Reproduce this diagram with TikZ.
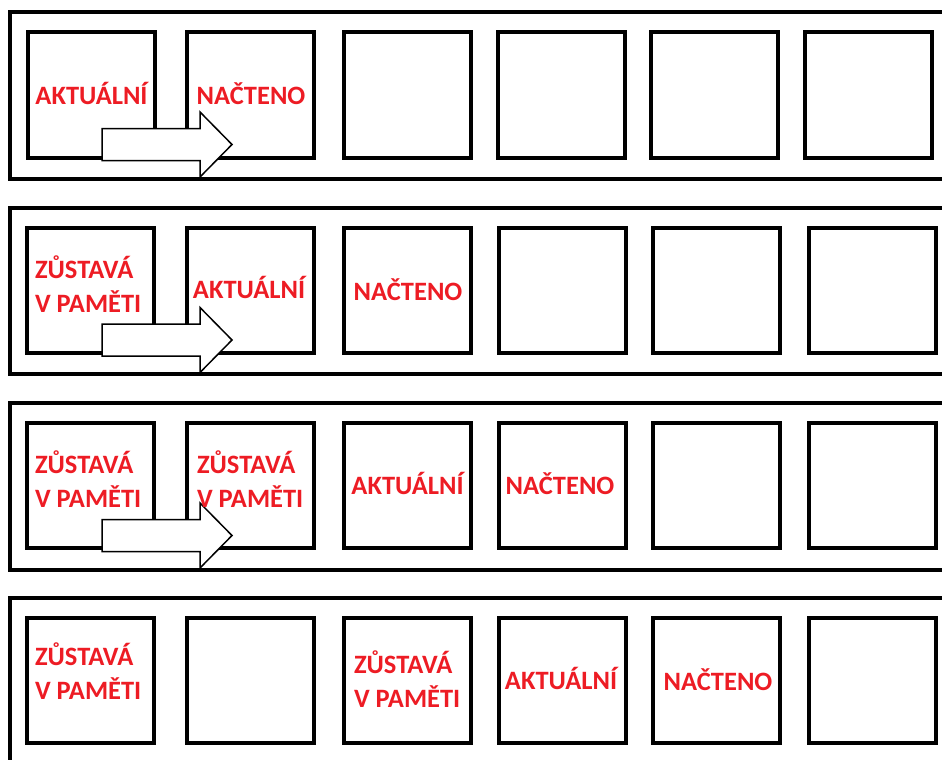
\documentclass[tikz,border=0pt]{standalone}
\usepackage{fontspec}
\setmainfont{Carlito}
\definecolor{lbl}{RGB}{237,28,36}
\begin{document}
\begin{tikzpicture}[x=1pt,y=-1pt,
  frame/.style={draw=black, line width=4pt},
  cell/.style={draw=black, line width=4pt, minimum width=127pt, minimum height=125pt, inner sep=0pt, outer sep=0pt},
  lab/.style={text=lbl, font=\bfseries\fontsize{26.5}{33.5}\selectfont, inner sep=0pt, outer sep=0pt},
  blockarrow/.style={draw=black, fill=white, line width=1.5pt, line join=miter}]
\useasboundingbox (0,0) rectangle (942,760);
\begin{scope}
\clip (0,0) rectangle (942,760);
% row frames
\draw[frame] (10,12.5) rectangle (980,178.5);
\draw[frame] (9.5,207.5) rectangle (980,373.5);
\draw[frame] (10,402.5) rectangle (980,569.5);
\draw[frame] (10,598) rectangle (980,790);
% cells
\foreach \c/\x in {1/91.5,2/250.5,3/407,4/561,5/714.5,6/868.5}
  \node[cell] (r1c\c) at (\x,95) {};
\foreach \r/\y in {2/290.5,3/485,4/680.5}
  \foreach \c/\x in {1/90,2/250.5,3/407,4/562,5/716.5,6/872}
    \node[cell] (r\r c\c) at (\x,\y) {};
% block arrows
\foreach \m in {144.5,340,535.5}
  \draw[blockarrow] (102,\m-16) -- (200,\m-16) -- (200,\m-32.5) -- (232,\m)
     -- (200,\m+32.5) -- (200,\m+16) -- (102,\m+16) -- cycle;
\end{scope}
% labels row 1
\node[lab, anchor=base] (t11) at (91.5,104) {AKTUÁLNÍ};
\node[lab, anchor=base] (t12) at (251,104) {NAČTENO};
% labels row 2
\node[lab, anchor=base west, align=left] (t21) at (35,312) {ZŮSTAVÁ\\V PAMĚTI};
\node[lab, anchor=base] (t22) at (249,298) {AKTUÁLNÍ};
\node[lab, anchor=base] (t23) at (408,300) {NAČTENO};
% labels row 3
\node[lab, anchor=base west, align=left] (t31) at (35,507) {ZŮSTAVÁ\\V PAMĚTI};
\node[lab, anchor=base west, align=left] (t32) at (197,507) {ZŮSTAVÁ\\V PAMĚTI};
\node[lab, anchor=base] (t33) at (407.5,494) {AKTUÁLNÍ};
\node[lab, anchor=base] (t34) at (560,494) {NAČTENO};
% labels row 4
\node[lab, anchor=base west, align=left] (t41) at (35,699) {ZŮSTAVÁ\\V PAMĚTI};
\node[lab, anchor=base west, align=left] (t43) at (354,707) {ZŮSTAVÁ\\V PAMĚTI};
\node[lab, anchor=base] (t44) at (561,689) {AKTUÁLNÍ};
\node[lab, anchor=base] (t45) at (718,690) {NAČTENO};
\end{tikzpicture}
\end{document}
